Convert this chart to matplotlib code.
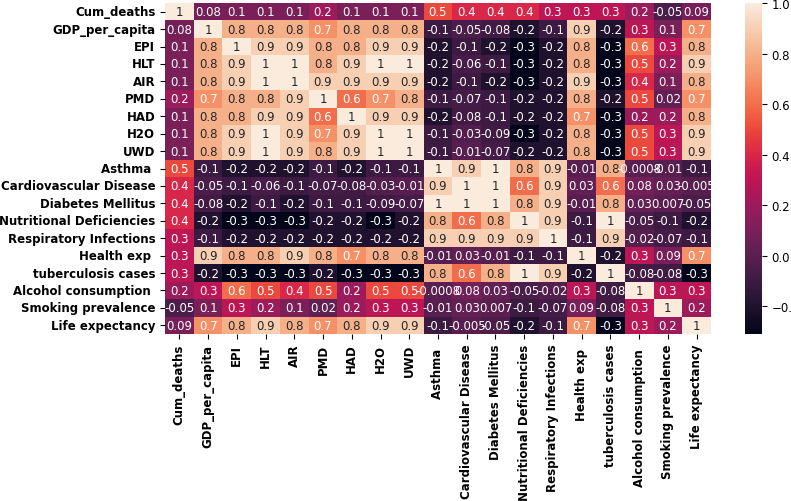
import matplotlib
matplotlib.use('Agg')
import matplotlib.pyplot as plt
import numpy as np
import pandas as pd
import seaborn as sns

labels = ['Cum_deaths', 'GDP_per_capita', 'EPI', 'HLT', 'AIR', 'PMD', 'HAD', 'H2O', 'UWD',
          'Asthma ', 'Cardiovascular Disease', 'Diabetes Mellitus', 'Nutritional Deficiencies',
          'Respiratory Infections', 'Health exp ', 'tuberculosis cases', 'Alcohol consumption ',
          'Smoking prevalence', 'Life expectancy']

cum_deaths = [1, 0.08, 0.1, 0.1, 0.1, 0.2, 0.1, 0.1, 0.1, 0.5, 0.4, 0.4, 0.4, 0.3, 0.3, 0.3, 0.2, -0.05, 0.09]
gdp = [0.08, 1, 0.8, 0.8, 0.8, 0.7, 0.8, 0.8, 0.8, -0.1, -0.05, -0.08, -0.2, -0.1, 0.9, -0.2, 0.3, 0.1, 0.7]
epi = [0.1, 0.8, 1, 0.9, 0.9, 0.8, 0.8, 0.9, 0.9, -0.2, -0.1, -0.2, -0.3, -0.2, 0.8, -0.3, 0.6, 0.3, 0.8]
hlt = [0.1, 0.8, 0.9, 1, 1, 0.8, 0.9, 1, 1, -0.2, -0.06, -0.1, -0.3, -0.2, 0.8, -0.3, 0.5, 0.2, 0.9]
air = [0.1, 0.8, 0.9, 1, 1, 0.9, 0.9, 0.9, 0.9, -0.2, -0.1, -0.2, -0.3, -0.2, 0.9, -0.3, 0.4, 0.1, 0.8]
pmd = [0.2, 0.7, 0.8, 0.8, 0.9, 1, 0.6, 0.7, 0.8, -0.1, -0.07, -0.1, -0.2, -0.2, 0.8, -0.2, 0.5, 0.02, 0.7]
had = [0.1, 0.8, 0.8, 0.9, 0.9, 0.6, 1, 0.9, 0.9, -0.2, -0.08, -0.1, -0.2, -0.2, 0.7, -0.3, 0.2, 0.2, 0.8]
h2o = [0.1, 0.8, 0.9, 1, 0.9, 0.7, 0.9, 1, 1, -0.1, -0.03, -0.09, -0.3, -0.2, 0.8, -0.3, 0.5, 0.3, 0.9]
uwd = [0.1, 0.8, 0.9, 1, 0.9, 0.8, 0.9, 1, 1, -0.1, -0.01, -0.07, -0.2, -0.2, 0.8, -0.3, 0.5, 0.3, 0.9]
asthma = [0.5, -0.1, -0.2, -0.2, -0.2, -0.1, -0.2, -0.1, -0.1, 1, 0.9, 1, 0.8, 0.9, -0.01, 0.8, -0.0008, -0.01, -0.1]
cardio = [0.4, -0.05, -0.1, -0.06, -0.1, -0.07, -0.08, -0.03, -0.01, 0.9, 1, 1, 0.6, 0.9, 0.03, 0.6, 0.08, 0.03, -0.005]
diabetes = [0.4, -0.08, -0.2, -0.1, -0.2, -0.1, -0.1, -0.09, -0.07, 1, 1, 1, 0.8, 0.9, -0.01, 0.8, 0.03, 0.007, -0.05]
nutrition = [0.4, -0.2, -0.3, -0.3, -0.3, -0.2, -0.2, -0.3, -0.2, 0.8, 0.6, 0.8, 1, 0.9, -0.1, 1, -0.05, -0.1, -0.2]
respiratory = [0.3, -0.1, -0.2, -0.2, -0.2, -0.2, -0.2, -0.2, -0.2, 0.9, 0.9, 0.9, 0.9, 1, -0.1, 0.9, -0.02, -0.07, -0.1]
health_exp = [0.3, 0.9, 0.8, 0.8, 0.9, 0.8, 0.7, 0.8, 0.8, -0.01, 0.03, -0.01, -0.1, -0.1, 1, -0.2, 0.3, 0.09, 0.7]
tb = [0.3, -0.2, -0.3, -0.3, -0.3, -0.2, -0.3, -0.3, -0.3, 0.8, 0.6, 0.8, 1, 0.9, -0.2, 1, -0.08, -0.08, -0.3]
alcohol = [0.2, 0.3, 0.6, 0.5, 0.4, 0.5, 0.2, 0.5, 0.5, -0.0008, 0.08, 0.03, -0.05, -0.02, 0.3, -0.08, 1, 0.3, 0.3]
smoking = [-0.05, 0.1, 0.3, 0.2, 0.1, 0.02, 0.2, 0.3, 0.3, -0.01, 0.03, 0.007, -0.1, -0.07, 0.09, -0.08, 0.3, 1, 0.2]
life = [0.09, 0.7, 0.8, 0.9, 0.8, 0.7, 0.8, 0.9, 0.9, -0.1, -0.005, -0.05, -0.2, -0.1, 0.7, -0.3, 0.3, 0.2, 1]

corr = pd.DataFrame([cum_deaths, gdp, epi, hlt, air, pmd, had, h2o, uwd, asthma, cardio,
                     diabetes, nutrition, respiratory, health_exp, tb, alcohol, smoking, life],
                    index=labels, columns=labels)

fig = plt.figure(figsize=(7.91, 5.02), dpi=100)
ax = fig.add_axes([165 / 791, 1 - 335 / 502, 546 / 791, 331 / 502])
cax = fig.add_axes([745 / 791, 1 - 335 / 502, 17 / 791, 331 / 502])

sns.heatmap(corr, annot=True, fmt='.1g', cmap='rocket', vmin=-0.31, vmax=1.0,
            annot_kws={'size': 8.5}, ax=ax, cbar_ax=cax)

ax.set_xticklabels(ax.get_xticklabels(), rotation=90, fontsize=8.5, fontweight='bold')
ax.set_yticklabels(ax.get_yticklabels(), rotation=0, fontsize=8.5, fontweight='bold')
cax.tick_params(labelsize=8.5)
cax.set_yticks([-0.2, 0.0, 0.2, 0.4, 0.6, 0.8, 1.0])

fig.savefig('out.png', dpi=100)
